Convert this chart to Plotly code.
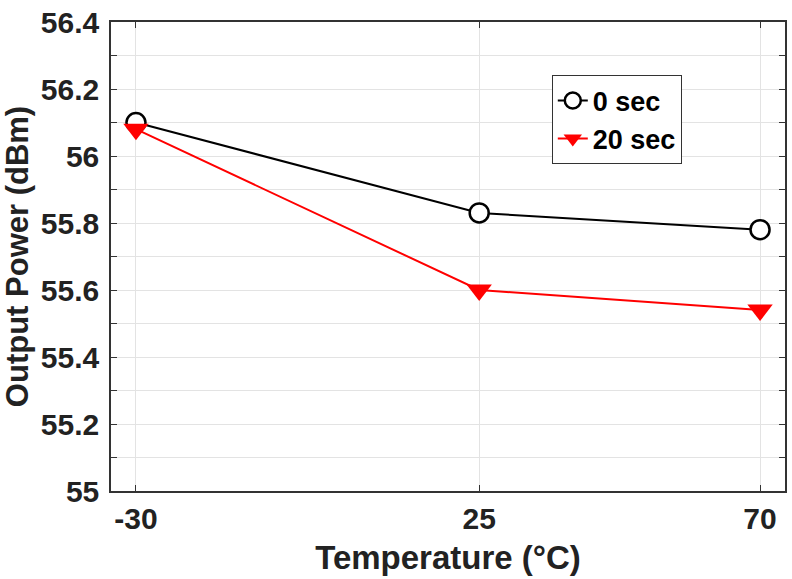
import plotly.graph_objects as go

temperature = [-30, 25, 70]
power_0sec = [56.10, 55.83, 55.78]
power_20sec = [56.08, 55.60, 55.54]
series_names = ["0 sec", "20 sec"]
x_ticks = [-30, 25, 70]
y_ticks = [55, 55.2, 55.4, 55.6, 55.8, 56, 56.2, 56.4]
y_tick_text = ["55", "55.2", "55.4", "55.6", "55.8", "56", "56.2", "56.4"]

FONT = "Liberation Sans, Arial, sans-serif"
AXCOL = "#333333"
GRID = "#e3e3e3"

fig = go.Figure()
fig.add_trace(go.Scatter(
    x=temperature, y=power_0sec, name=series_names[0], mode="lines+markers",
    line=dict(color="black", width=2),
    marker=dict(symbol="circle", size=19, color="white", line=dict(color="black", width=2.5)),
))
fig.add_trace(go.Scatter(
    x=temperature, y=power_20sec, name=series_names[1], mode="lines+markers",
    line=dict(color="#ff0000", width=2),
    marker=dict(symbol="triangle-down", size=22, color="#ff0000", line=dict(width=0)),
))

fig.update_layout(
    width=792, height=579,
    margin=dict(l=111, r=5, t=17, b=88),
    paper_bgcolor="white", plot_bgcolor="white",
    font=dict(family=FONT, size=30, color="#222222", weight="bold"),
    showlegend=True,
    legend=dict(
        x=0.654, y=0.886, xanchor="left", yanchor="top",
        bgcolor="white", bordercolor="#333333", borderwidth=1,
        font=dict(family=FONT, size=27, color="black", weight="bold"),
        tracegroupgap=0,
    ),
)
fig.update_xaxes(
    range=[-34, 74], tickvals=x_ticks, ticktext=[str(v) for v in x_ticks],
    showgrid=True, gridcolor=GRID, gridwidth=1,
    showline=True, linecolor=AXCOL, linewidth=1.5, mirror="allticks",
    ticks="inside", ticklen=6, tickcolor=AXCOL,
    tickfont=dict(family=FONT, size=30, color="#222222", weight="bold"),
    zeroline=False,
    title=dict(text="Temperature (°C)", font=dict(family=FONT, size=33, color="#222222", weight="bold"), standoff=12),
)
fig.update_yaxes(
    range=[55, 56.4], tickvals=y_ticks, ticktext=y_tick_text,
    showgrid=True, gridcolor=GRID, gridwidth=1,
    minor=dict(dtick=0.1, tick0=55, showgrid=True, gridcolor=GRID, gridwidth=1, ticks="inside", ticklen=6, tickcolor=AXCOL),
    showline=True, linecolor=AXCOL, linewidth=1.5, mirror="allticks",
    ticks="inside", ticklen=6, tickcolor=AXCOL, ticklabelstandoff=4,
    tickfont=dict(family=FONT, size=30, color="#222222", weight="bold"),
    zeroline=False,
    title=dict(text="Output Power (dBm)", font=dict(family=FONT, size=31, color="#222222", weight="bold"), standoff=6),
)

fig.write_html("out.html")
